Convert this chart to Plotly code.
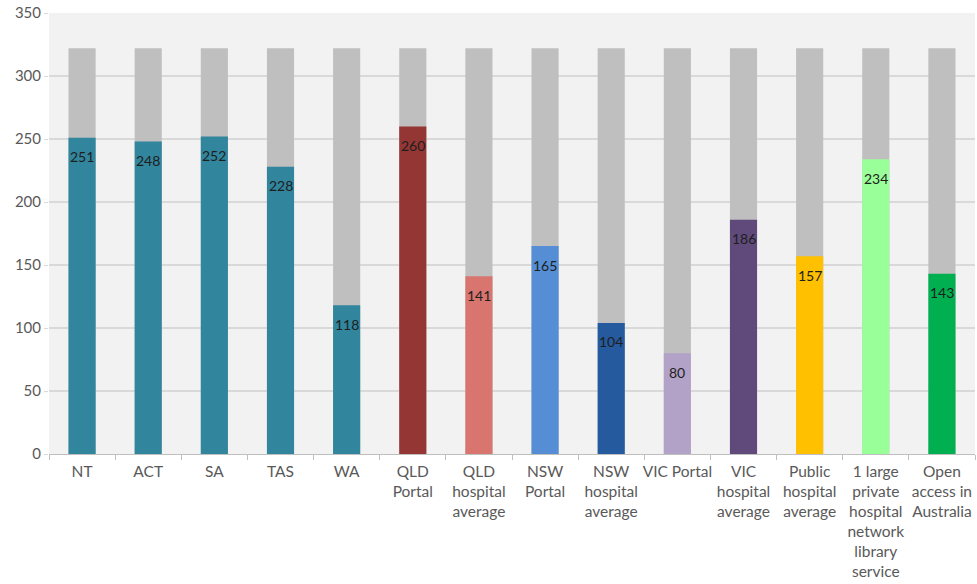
import plotly.graph_objects as go

categories = ["NT", "ACT", "SA", "TAS", "WA", "QLD<br>Portal", "QLD<br>hospital<br>average",
              "NSW<br>Portal", "NSW<br>hospital<br>average", "VIC Portal", "VIC<br>hospital<br>average",
              "Public<br>hospital<br>average", "1 large<br>private<br>hospital<br>network<br>library<br>service",
              "Open<br>access in<br>Australia"]
values = [251, 248, 252, 228, 118, 260, 141, 165, 104, 80, 186, 157, 234, 143]
totals = [322] * len(categories)
colors = ["#31859c", "#31859c", "#31859c", "#31859c", "#31859c", "#943634", "#d9756f",
          "#558ed5", "#255a9e", "#b3a2c7", "#604a7b", "#ffc000", "#99ff99", "#00b050"]

fig = go.Figure()
fig.add_trace(go.Bar(x=categories, y=totals, marker=dict(color="#bfbfbf", line=dict(width=0)),
                     width=0.41, hoverinfo="skip", showlegend=False))
fig.add_trace(go.Bar(x=categories, y=values, marker=dict(color=colors, line=dict(width=0)),
                     width=0.41, showlegend=False))

for c, v in zip(categories, values):
    fig.add_annotation(x=c, y=v, text=str(v), showarrow=False, yanchor="middle", yshift=-19,
                       font=dict(family="Lato", size=14, color="#1e1e1e"))

fig.update_layout(
    width=977, height=584,
    barmode="overlay",
    margin=dict(l=49, r=2, t=13, b=130),
    paper_bgcolor="white",
    plot_bgcolor="#f2f2f2",
    font=dict(family="Lato", size=15, color="#595959"),
    xaxis=dict(type="category", tickson="boundaries", ticks="outside", ticklen=5,
               tickcolor="#bfbfbf", showline=True, linecolor="#bfbfbf", automargin=False,
               ticklabelstandoff=3,
               tickfont=dict(size=15.5, color="#595959"), tickangle=0),
    yaxis=dict(range=[0, 350], dtick=50, showgrid=True, gridcolor="#d9d9d9", gridwidth=1.5,
               zeroline=False, ticks="outside", ticklen=4, tickcolor="#d9d9d9", automargin=False,
               tickfont=dict(size=15, color="#595959")),
)

fig.write_html("out.html", config={"displayModeBar": False},
               post_script="document.body.style.margin='0';")
